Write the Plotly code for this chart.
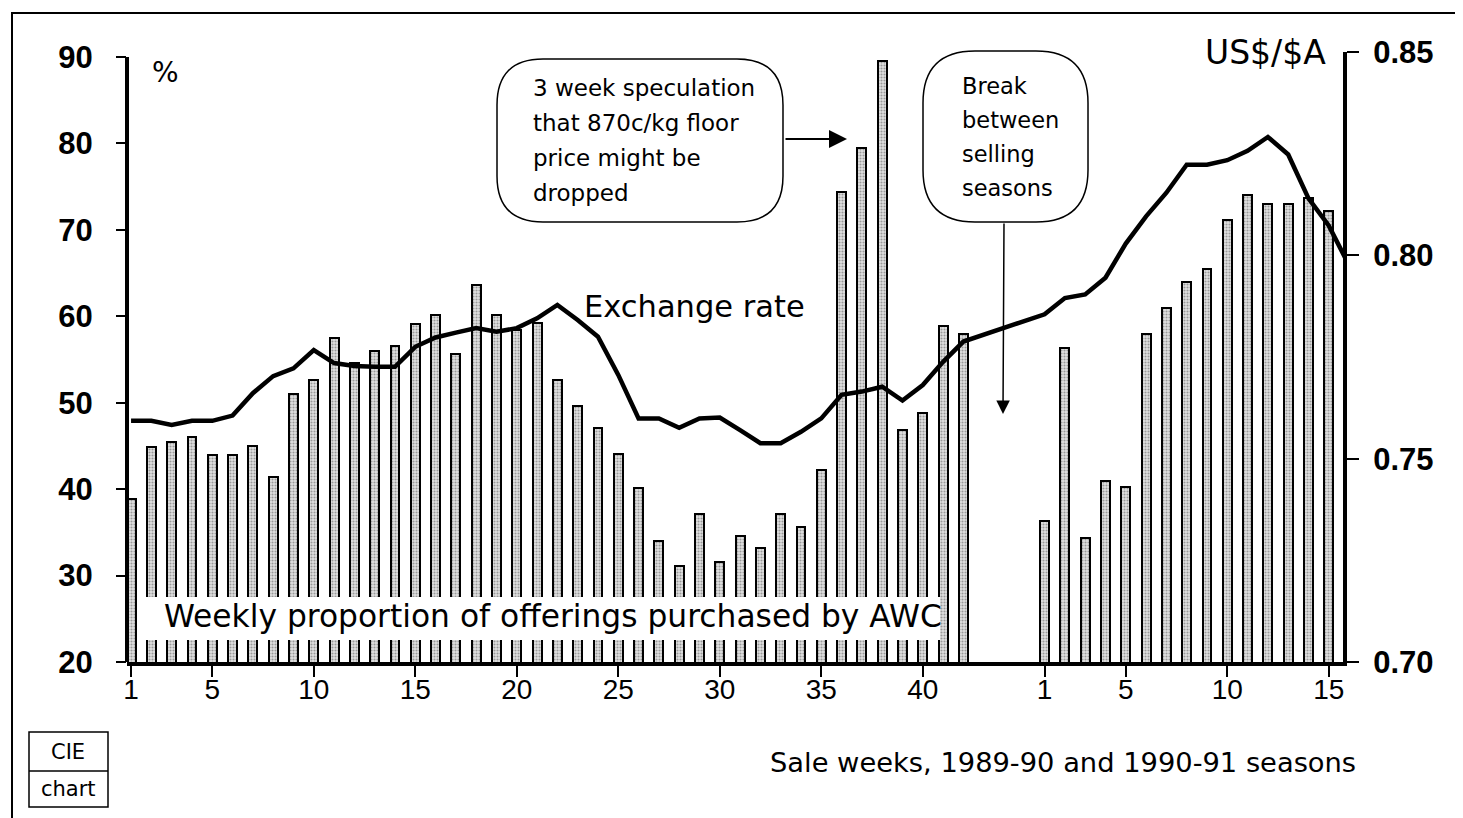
import plotly.graph_objects as go

# ---------------- data ----------------
season1_weeks = list(range(1, 43))
season1_pct = [38.9, 44.9, 45.5, 46.0, 44.0, 44.0, 45.0, 41.4, 51.0, 52.6,
               57.5, 54.6, 56.0, 56.6, 59.1, 60.1, 55.6, 63.6, 60.2, 58.4,
               59.2, 52.6, 49.6, 47.1, 44.1, 40.1, 34.0, 31.1, 37.1, 31.6,
               34.6, 33.2, 37.1, 35.6, 42.2, 74.4, 79.5, 89.5, 46.8, 48.8,
               58.9, 57.9]
season1_fx = [0.7593, 0.7593, 0.7583, 0.7593, 0.7593, 0.7606, 0.7661, 0.7703, 0.7722, 0.7767,
              0.7735, 0.7728, 0.7726, 0.7726, 0.7775, 0.7798, 0.7810, 0.7821, 0.7812, 0.7821,
              0.7845, 0.7878, 0.7841, 0.7800, 0.7706, 0.7599, 0.7599, 0.7576, 0.7599, 0.7601,
              0.7570, 0.7538, 0.7538, 0.7566, 0.7599, 0.7657, 0.7665, 0.7677, 0.7643, 0.7681,
              0.7738, 0.7788]

season2_weeks = list(range(1, 16))
season2_pct = [36.3, 56.3, 34.3, 40.9, 40.3, 57.9, 61.0, 64.0, 65.5, 71.1,
               74.0, 73.0, 73.0, 73.7, 72.2]
season2_fx_weeks = list(range(1, 17))
season2_fx = [0.7855, 0.7895, 0.7904, 0.7945, 0.8029, 0.8096, 0.8154, 0.8223, 0.8223, 0.8234,
              0.8257, 0.8291, 0.8248, 0.8140, 0.8073, 0.7975]

season_offset = 45  # slot where season 2 starts (after break)

x_tick_weeks_s1 = [1, 5, 10, 15, 20, 25, 30, 35, 40]
x_tick_weeks_s2 = [1, 5, 10, 15]

# ---------------- layout geometry (page pixels; page has 8px body margin) ----------------
OFF = 8
W, H = 1463 - OFF, 818 - OFF
PLOT_L, PLOT_R, PLOT_T, PLOT_B = 127, 1343, 52, 662   # page coords
L, T = PLOT_L - OFF, PLOT_T - OFF
R, B = W - (PLOT_R - OFF), H - (PLOT_B - OFF)
PW, PH = PLOT_R - PLOT_L, PLOT_B - PLOT_T


def px(xp):
    return (xp - PLOT_L) / PW


def py(yp):
    return (PLOT_B - yp) / PH


bar_x = season1_weeks + [w + season_offset for w in season2_weeks]
bar_y = season1_pct + season2_pct
fx_x = season1_weeks + [w + season_offset for w in season2_fx_weeks]
fx_y = season1_fx + season2_fx

fig = go.Figure()
fig.add_trace(go.Bar(
    x=bar_x, y=bar_y, width=0.44,
    marker=dict(color="#d0d0d0",
                pattern=dict(shape=".", fgcolor="#505050", bgcolor="#e2e2e2",
                             size=3, solidity=0.4),
                line=dict(color="black", width=2)),
    yaxis="y", showlegend=False, hoverinfo="skip"))
fig.add_trace(go.Scatter(
    x=fx_x, y=fx_y, mode="lines", line=dict(color="black", width=4.5),
    yaxis="y2", showlegend=False, hoverinfo="skip"))

tickvals = x_tick_weeks_s1 + [w + season_offset for w in x_tick_weeks_s2]
ticktext = [str(w) for w in x_tick_weeks_s1] + [str(w) for w in x_tick_weeks_s2]

fig.update_layout(
    width=W, height=H,
    margin=dict(l=L, r=R, t=T, b=B, pad=0),
    paper_bgcolor="white", plot_bgcolor="white",
    bargap=0,
    xaxis=dict(range=[0.8, 60.7], tickvals=tickvals, ticktext=ticktext,
               showgrid=False, zeroline=False, showline=True, linewidth=4,
               linecolor="black", ticks="outside", ticklen=11, tickwidth=2,
               tickcolor="black", ticklabelstandoff=-12,
               tickfont=dict(family="Liberation Sans", size=28, color="black")),
    yaxis=dict(range=[20, 90 + 5 / 8.643], tickvals=[20, 30, 40, 50, 60, 70, 80, 90],
               showgrid=False, zeroline=False, showline=False,
               ticks="outside", ticklen=10, tickwidth=2, tickcolor="black",
               ticklabelstandoff=17,
               tickfont=dict(family="Liberation Sans", size=31, color="black", weight="bold")),
    yaxis2=dict(range=[0.70, 0.85], overlaying="y", side="right",
                tickvals=[0.70, 0.75, 0.80, 0.85], ticktext=["0.70", "0.75", "0.80", "0.85"],
                showgrid=False, zeroline=False, showline=True, linewidth=4,
                linecolor="black", ticks="outside", ticklen=12, tickwidth=2,
                tickcolor="black", ticklabelstandoff=8,
                tickfont=dict(family="Liberation Sans", size=31, color="black", weight="bold")),
)

shapes = []
# left axis line (20 to 90)
shapes.append(dict(type="line", xref="paper", yref="y", x0=0, x1=0, y0=20, y1=90,
                   line=dict(color="black", width=4)))
# outer frame
shapes.append(dict(type="rect", xref="paper", yref="paper",
                   x0=px(12), x1=px(1490), y0=py(13), y1=py(840),
                   line=dict(color="black", width=2), layer="below"))


def rounded(x0, y0, x1, y1, r):
    pts = [
        ("M", [(x0 + r, y0)]), ("L", [(x1 - r, y0)]), ("Q", [(x1, y0), (x1, y0 + r)]),
        ("L", [(x1, y1 - r)]), ("Q", [(x1, y1), (x1 - r, y1)]),
        ("L", [(x0 + r, y1)]), ("Q", [(x0, y1), (x0, y1 - r)]),
        ("L", [(x0, y0 + r)]), ("Q", [(x0, y0), (x0 + r, y0)]),
    ]
    s = ""
    for cmd, ps in pts:
        s += cmd + " " + " ".join(f"{px(a):.5f},{py(b):.5f}" for a, b in ps) + " "
    return s + "Z"


shapes.append(dict(type="path", xref="paper", yref="paper",
                   path=rounded(497, 59, 783, 222, 46),
                   line=dict(color="black", width=1.5), fillcolor="white", layer="above"))
shapes.append(dict(type="path", xref="paper", yref="paper",
                   path=rounded(923, 51, 1088, 222, 52),
                   line=dict(color="black", width=1.5), fillcolor="white", layer="above"))
# white box behind bottom label
shapes.append(dict(type="rect", xref="paper", yref="paper",
                   x0=px(140), x1=px(940), y0=py(640), y1=py(597),
                   line=dict(width=0), fillcolor="white", layer="above"))
# CIE chart boxes
shapes.append(dict(type="rect", xref="paper", yref="paper",
                   x0=px(29), x1=px(108), y0=py(807), y1=py(732),
                   line=dict(color="black", width=1.5)))
shapes.append(dict(type="line", xref="paper", yref="paper",
                   x0=px(29), x1=px(108), y0=py(771), y1=py(771),
                   line=dict(color="black", width=1.5)))
fig.update_layout(shapes=shapes)

ann = []
TF = "DejaVu Sans"


def text(x, y, s, size, xanchor="left", family=TF):
    ann.append(dict(x=px(x), y=py(y), xref="paper", yref="paper", text=s,
                    showarrow=False, xanchor=xanchor, yanchor="middle",
                    font=dict(family=family, size=size, color="black")))


for i, line in enumerate(["3 week speculation", "that 870c/kg floor", "price might be", "dropped"]):
    text(531, 88 + i * 35, line, 23)
for i, line in enumerate(["Break", "between", "selling", "seasons"]):
    text(960, 86 + i * 34, line, 22.5)

text(582, 306, "Exchange rate", 30.5)
text(162, 616, "Weekly proportion of offerings purchased by AWC", 31.3)
text(150, 72, "%", 28)
text(1328, 53, "US$/$A", 33, xanchor="right")
text(1358, 762, "Sale weeks, 1989-90 and 1990-91 seasons", 27.3, xanchor="right")
text(68, 752, "CIE", 21, xanchor="center")
text(68, 789, "chart", 21, xanchor="center")

# arrows
ann.append(dict(x=px(847), y=py(139), xref="paper", yref="paper", text="",
                showarrow=True, ax=-63, ay=0, arrowhead=2, arrowsize=1.8,
                arrowwidth=2, arrowcolor="black"))
ann.append(dict(x=px(1003), y=py(414), xref="paper", yref="paper", text="",
                showarrow=True, ax=1, ay=-192, arrowhead=2, arrowsize=1.8,
                arrowwidth=1.5, arrowcolor="black"))
fig.update_layout(annotations=ann)

fig.write_html("out.html")
